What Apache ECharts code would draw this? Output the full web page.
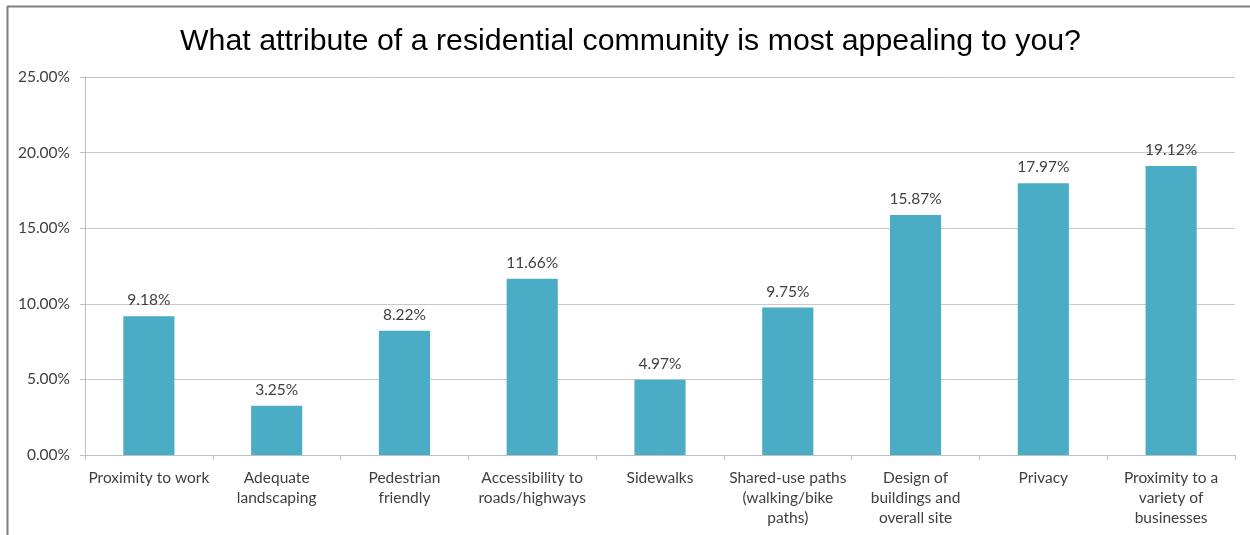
<!DOCTYPE html>
<html>
<head>
<meta charset="utf-8">
<script src="https://cdn.jsdelivr.net/npm/echarts@6/dist/echarts.min.js"></script>
<style>
  html, body { margin: 0; padding: 0; background: #ffffff; }
  #chart { width: 1250px; height: 535px; }
</style>
</head>
<body>
<div id="chart"></div>
<script>
// Survey responses: most appealing attribute of a residential community (% of respondents)
const categories = [
  'Proximity to work',
  'Adequate\nlandscaping',
  'Pedestrian\nfriendly',
  'Accessibility to\nroads/highways',
  'Sidewalks',
  'Shared-use paths\n(walking/bike\npaths)',
  'Design of\nbuildings and\noverall site',
  'Privacy',
  'Proximity to a\nvariety of\nbusinesses'
];
const shares = [9.18, 3.25, 8.22, 11.66, 4.97, 9.75, 15.87, 17.97, 19.12];
const yTicks = { min: 0, max: 25, step: 5 };

const chart = echarts.init(document.getElementById('chart'), null, { renderer: 'canvas' });

const labelFont = 'Lato, "Open Sans", sans-serif';
const textColor = '#404040';

chart.setOption({
  animation: false,
  backgroundColor: '#ffffff',
  title: {
    text: 'What attribute of a residential community is most appealing to you?',
    left: 175,
    top: 22,
    textStyle: {
      fontFamily: '"Liberation Sans", Arial, sans-serif',
      fontSize: 30.3,
      fontWeight: 'normal',
      color: '#000000'
    }
  },
  graphic: [
    // frame edges along the top and left of the chart
    { type: 'line', shape: { x1: 7, y1: 6.5, x2: 1250, y2: 6.5 }, style: { stroke: '#7f7f7f', lineWidth: 2 } },
    { type: 'line', shape: { x1: 7.5, y1: 6, x2: 7.5, y2: 535 }, style: { stroke: '#7f7f7f', lineWidth: 2 } }
  ],
  grid: { left: 85, right: 15, top: 77, bottom: 80, containLabel: false },
  xAxis: {
    type: 'category',
    data: categories,
    boundaryGap: true,
    axisLine: { show: true, lineStyle: { color: '#bfbfbf', width: 1 } },
    axisTick: { show: true, alignWithLabel: false, length: 5, lineStyle: { color: '#bfbfbf' } },
    axisLabel: {
      interval: 0,
      margin: 13,
      fontFamily: labelFont,
      fontSize: 15.5,
      lineHeight: 20,
      color: textColor,
      align: 'center'
    },
    splitLine: { show: false }
  },
  yAxis: {
    type: 'value',
    min: yTicks.min,
    max: yTicks.max,
    interval: yTicks.step,
    axisLine: { show: true, lineStyle: { color: '#bfbfbf', width: 1 } },
    axisTick: { show: true, length: 5, lineStyle: { color: '#bfbfbf' } },
    axisLabel: {
      margin: 15,
      fontFamily: labelFont,
      fontSize: 15.5,
      color: textColor,
      formatter: v => v.toFixed(2) + '%'
    },
    splitLine: { show: true, lineStyle: { color: '#c8c8c8', width: 1 } }
  },
  series: [{
    type: 'bar',
    data: shares,
    barWidth: '40%',
    itemStyle: { color: '#4bacc6' },
    label: {
      show: true,
      position: 'top',
      distance: 8,
      fontFamily: labelFont,
      fontSize: 15.5,
      color: textColor,
      formatter: p => p.value.toFixed(2) + '%'
    }
  }]
});
</script>
</body>
</html>
